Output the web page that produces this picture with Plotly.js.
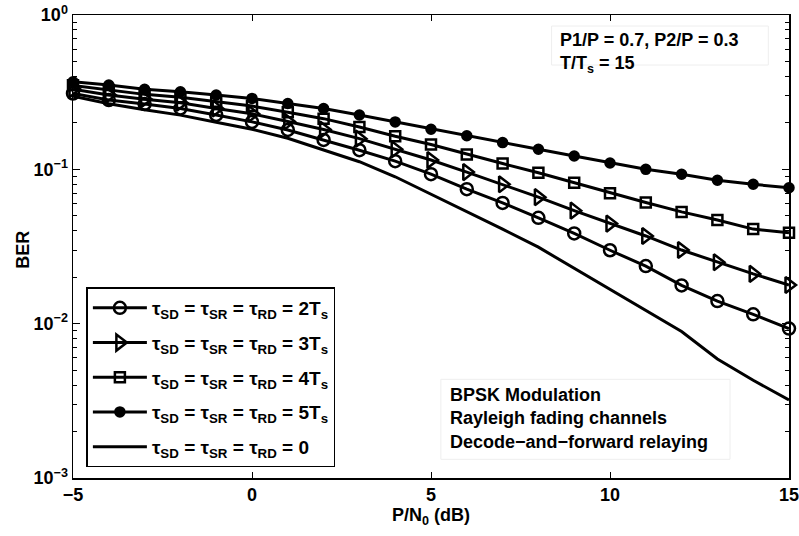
<!DOCTYPE html>
<html>
<head>
<meta charset="utf-8">
<script src="https://cdn.plot.ly/plotly-3.0.1.min.js"></script>
<style>html,body{margin:0;padding:0;background:#fff;}#chart{width:799px;height:536px;}</style>
</head>
<body>
<div id="chart"></div>
<script>
const snr = [-5,-4,-3,-2,-1,0,1,2,3,4,5,6,7,8,9,10,11,12,13,14,15];
const ber2Ts = [0.31,0.281,0.265,0.248,0.225,0.203,0.18,0.155,0.133,0.113,0.093,0.0744,0.0606,0.0485,0.0384,0.0299,0.0236,0.0177,0.014,0.0115,0.0093];
const ber3Ts = [0.331,0.303,0.285,0.27,0.248,0.229,0.204,0.181,0.158,0.135,0.115,0.096,0.080,0.066,0.054,0.0445,0.037,0.030,0.025,0.021,0.0178];
const ber4Ts = [0.350,0.327,0.306,0.293,0.274,0.257,0.234,0.213,0.188,0.164,0.145,0.125,0.109,0.095,0.082,0.070,0.061,0.053,0.047,0.041,0.0388];
const ber5Ts = [0.369,0.352,0.33,0.318,0.303,0.288,0.267,0.248,0.225,0.203,0.182,0.165,0.149,0.135,0.122,0.110,0.100,0.093,0.085,0.080,0.076];
const ber0 = [0.298,0.266,0.243,0.2245,0.202,0.182,0.159,0.133,0.112,0.0895,0.069,0.0534,0.041,0.0313,0.0229,0.0167,0.0122,0.0089,0.0059,0.0043,0.0032];
const seriesNames = [
  "τ<sub>SD</sub> = τ<sub>SR</sub> = τ<sub>RD</sub> = 2T<sub>s</sub>",
  "τ<sub>SD</sub> = τ<sub>SR</sub> = τ<sub>RD</sub> = 3T<sub>s</sub>",
  "τ<sub>SD</sub> = τ<sub>SR</sub> = τ<sub>RD</sub> = 4T<sub>s</sub>",
  "τ<sub>SD</sub> = τ<sub>SR</sub> = τ<sub>RD</sub> = 5T<sub>s</sub>",
  "τ<sub>SD</sub> = τ<sub>SR</sub> = τ<sub>RD</sub> = 0"
];
const yTickVals = [0.001,0.01,0.1,1];
const yTickText = ["10<sup>−3</sup>","10<sup>−2</sup>","10<sup>−1</sup>","10<sup>0</sup>"];
const yMinorVals = [0.002,0.003,0.004,0.005,0.006,0.007,0.008,0.009,0.02,0.03,0.04,0.05,0.06,0.07,0.08,0.09,0.2,0.3,0.4,0.5,0.6,0.7,0.8,0.9];
const xTickVals = [-5,0,5,10,15];

const FONT = "Liberation Sans, Arial, Helvetica, sans-serif";
const FS = 18;
const lw = 3;
function tr(y, name, symbol, size, grp) {
  const t = {x: snr, y: y, name: name, type: 'scatter', mode: symbol ? 'lines+markers' : 'lines',
    legendgroup: grp, line: {color: '#000', width: lw}, cliponaxis: false};
  if (symbol) t.marker = {symbol: symbol, size: size, color: '#000', line: {color: '#000', width: 2.5}};
  return t;
}
const data = [
  tr(ber2Ts, seriesNames[0], 'circle-open', 12, 'g1'),
  tr(ber3Ts, seriesNames[1], 'triangle-right-open', 14, 'g2'),
  tr(ber4Ts, seriesNames[2], 'square-open', 10, 'g3'),
  tr(ber5Ts, seriesNames[3], 'circle', 9, 'g4'),
  tr(ber0, seriesNames[4], null, 0, 'g5')
];
const layout = {
  width: 799, height: 536,
  margin: {l: 73, r: 10, t: 15, b: 58},
  paper_bgcolor: '#fff', plot_bgcolor: '#fff',
  font: {family: FONT, size: FS, color: '#000', weight: 'bold'},
  showlegend: true,
  legend: {x: 0.0187, y: 0.4115, xanchor: 'left', yanchor: 'top', bgcolor: '#fff',
    bordercolor: '#000', borderwidth: 1.5, font: {family: FONT, size: 19, weight: 'bold'},
    itemwidth: 54, tracegroupgap: 7},
  xaxis: {range: [-5, 15], tickvals: xTickVals, ticks: 'inside', ticklen: 6, tickwidth: 1,
    tickcolor: '#000', showline: true, linecolor: '#000', linewidth: 1.5, mirror: 'ticks',
    showgrid: false, zeroline: false, ticklabeloverflow: 'allow',
    tickfont: {family: FONT, size: FS, weight: 'bold'},
    title: {text: 'P/N<sub>0</sub> (dB)', font: {family: FONT, size: FS, weight: 'bold'}, standoff: 4}},
  yaxis: {type: 'log', range: [-3, 0], tickvals: yTickVals, ticktext: yTickText, ticks: 'inside',
    ticklen: 7, tickwidth: 1, tickcolor: '#000', showline: true, linecolor: '#000', linewidth: 1.5,
    mirror: 'ticks', showgrid: false, zeroline: false, ticklabeloverflow: 'allow',
    minor: {tickvals: yMinorVals, ticks: 'inside', ticklen: 4, tickcolor: '#000', showgrid: false},
    tickfont: {family: FONT, size: FS, weight: 'bold'}},
  shapes: [
    {type: 'rect', xref: 'paper', yref: 'paper', x0: 0.6684, x1: 0.9711, y0: 0.8919, y1: 0.9762,
      line: {color: '#eeeeee', width: 1}, fillcolor: 'rgba(0,0,0,0)'},
    {type: 'rect', xref: 'paper', yref: 'paper', x0: 0.5138, x1: 0.9176, y0: 0.0404, y1: 0.2132,
      line: {color: '#eeeeee', width: 1}, fillcolor: 'rgba(0,0,0,0)'}
  ],
  annotations: [
    {xref: 'paper', yref: 'paper', x: -0.0689, y: 0.492, xanchor: 'center', yanchor: 'middle',
      textangle: -90, showarrow: false, text: 'BER', font: {family: FONT, size: FS, weight: 'bold'}},
    {xref: 'paper', yref: 'paper', x: 0.6776, y: 0.972, xanchor: 'left', yanchor: 'top', align: 'left',
      showarrow: false, text: 'P1/P = 0.7, P2/P = 0.3<br>T/T<sub>s</sub> = 15',
      font: {family: FONT, size: FS, weight: 'bold'}},
    {xref: 'paper', yref: 'paper', x: 0.5233, y: 0.1275, xanchor: 'left', yanchor: 'middle', align: 'left',
      showarrow: false, text: 'BPSK Modulation<br>Rayleigh fading channels<br>Decode−and−forward relaying',
      font: {family: FONT, size: FS, weight: 'bold'}}
  ]
};
Plotly.newPlot('chart', data, layout, {staticPlot: true, displayModeBar: false});
</script>
</body>
</html>
